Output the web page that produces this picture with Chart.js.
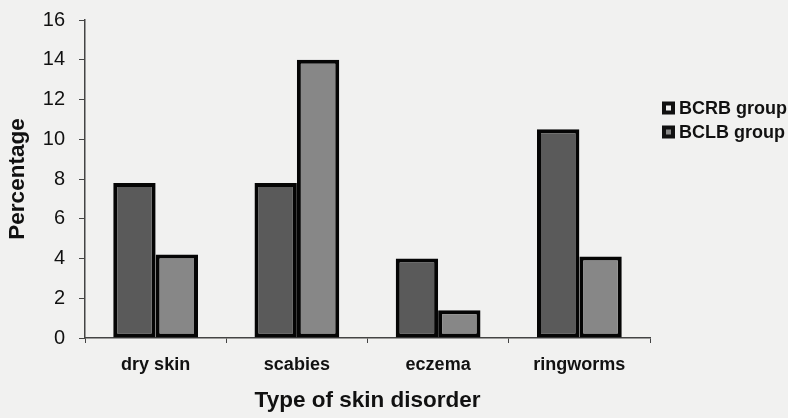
<!DOCTYPE html>
<html>
<head>
<meta charset="utf-8">
<script src="https://cdn.jsdelivr.net/npm/chart.js@4/dist/chart.umd.min.js"></script>
<style>
  html, body { margin: 0; padding: 0; background: #f1f1f0; }
  #wrap { width: 788px; height: 418px; position: relative; }
</style>
</head>
<body>
<div id="wrap"><canvas id="c" width="788" height="418"></canvas></div>
<script>
const categories = ["dry skin", "scabies", "eczema", "ringworms"];
const seriesNames = ["BCRB group", "BCLB group"];
const bcrbValues = [7.8, 7.8, 4.0, 10.5];
const bclbValues = [4.2, 14.0, 1.4, 4.1];
const yTicks = [0, 2, 4, 6, 8, 10, 12, 14, 16];
const yTitle = "Percentage";
const xTitle = "Type of skin disorder";

const FONT = "'Liberation Sans', Arial, sans-serif";

const legendPlugin = {
  id: 'customLegend',
  afterDraw(chart) {
    const ctx = chart.ctx;
    const x0 = 662, y0 = 108, gap = 24;
    ctx.save();
    chart.data.datasets.forEach((ds, i) => {
      const cy = y0 + i * gap;
      ctx.fillStyle = '#111';
      ctx.fillRect(x0, cy - 6.5, 13, 13);
      ctx.fillStyle = i === 0 ? '#f0f0f0' : ds.backgroundColor;
      ctx.fillRect(x0 + 4, cy - 2.5, 5, 5);
      ctx.fillStyle = '#111';
      ctx.font = "bold 18px " + FONT;
      ctx.textBaseline = 'middle';
      ctx.textAlign = 'left';
      ctx.fillText(ds.label, x0 + 17, cy + 1);
    });
    ctx.restore();
  }
};

new Chart(document.getElementById('c'), {
  type: 'bar',
  data: {
    labels: categories,
    datasets: [
      { label: seriesNames[0], data: bcrbValues, backgroundColor: '#5a5a5a', borderColor: '#050505', borderWidth: 4, borderSkipped: false },
      { label: seriesNames[1], data: bclbValues, backgroundColor: '#878787', borderColor: '#050505', borderWidth: 4, borderSkipped: false }
    ]
  },
  options: {
    responsive: false,
    animation: false,
    layout: { padding: { top: 20, right: 138, bottom: 0, left: 0 } },
    datasets: { bar: { categoryPercentage: 0.6, barPercentage: 1.0 } },
    plugins: { legend: { display: false }, tooltip: { enabled: false } },
    scales: {
      x: {
        grid: { display: true, drawOnChartArea: false, offset: true, tickLength: 5, color: '#444', lineWidth: 1 },
        border: { display: true, color: '#444', width: 1.5 },
        ticks: { color: '#111', font: { family: FONT, size: 18, weight: 'bold' }, padding: 11 },
        title: { display: true, text: xTitle, color: '#111', font: { family: FONT, size: 22.5, weight: 'bold' }, padding: { top: 0, bottom: 4 } },
        afterFit(scale) { scale.height = 80; scale.paddingLeft = 0; scale.paddingRight = 0; }
      },
      y: {
        min: 0, max: 16,
        afterBuildTicks(scale) { scale.ticks = yTicks.map(v => ({ value: v })); },
        grid: { display: true, drawOnChartArea: false, tickLength: 6, color: '#444', lineWidth: 1 },
        border: { display: true, color: '#444', width: 1.5 },
        ticks: { color: '#111', font: { family: FONT, size: 20 }, padding: 14 },
        title: { display: true, text: yTitle, color: '#111', font: { family: FONT, size: 22.5, weight: 'bold' }, padding: { top: 4, bottom: 0 } },
        afterFit(scale) { scale.width = 85; scale.paddingTop = 0; scale.paddingBottom = 0; }
      }
    }
  },
  plugins: [legendPlugin]
});
</script>
</body>
</html>
